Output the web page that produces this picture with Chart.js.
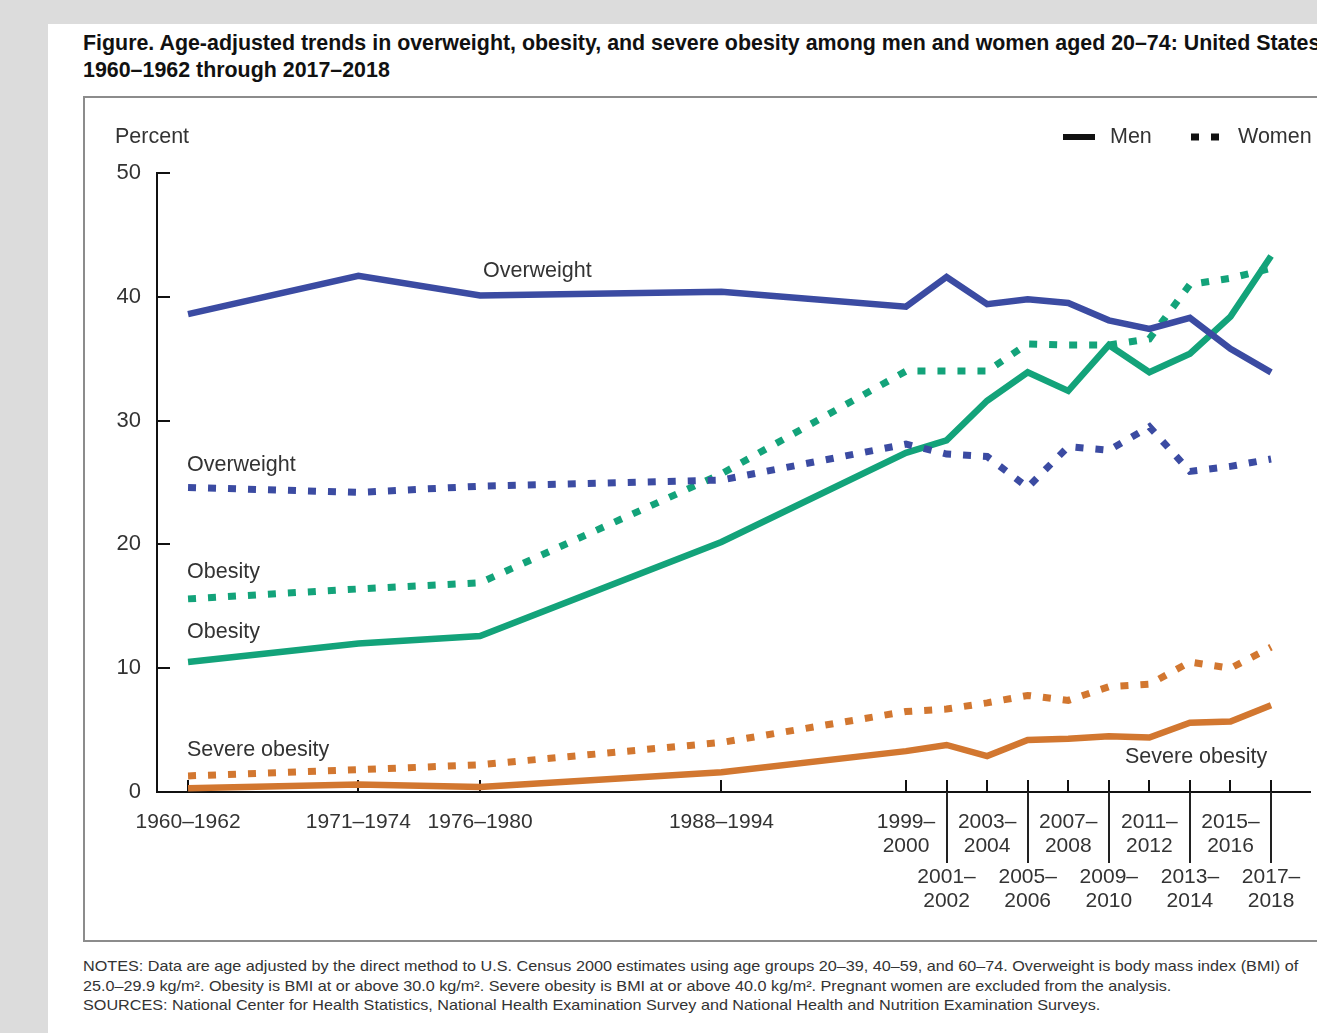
<!DOCTYPE html>
<html>
<head>
<meta charset="utf-8">
<script src="https://cdn.jsdelivr.net/npm/chart.js@4.4.0/dist/chart.umd.min.js"></script>
<style>
  html, body { margin: 0; padding: 0; overflow: hidden; }
  body { width: 1317px; height: 1033px; background: #dcdcdc; position: relative; font-family: "Liberation Sans", Arial, sans-serif; }
  #panel { position: absolute; left: 48px; top: 24px; width: 1300px; height: 1020px; background: #fff; }
  #title { position: absolute; left: 83px; top: 30px; font-weight: bold; font-size: 21.4px; line-height: 27px; color: #111; white-space: nowrap; }
  #box { position: absolute; left: 83px; top: 96px; width: 1260px; height: 842px; border: 2px solid #8c8c8c; }
  #chartWrap { position: absolute; left: 83px; top: 96px; width: 1234px; height: 846px; }
  #notes { position: absolute; left: 83px; top: 957px; font-size: 14.5px; line-height: 19.5px; color: #333; white-space: nowrap;
           transform: scaleX(1.116); transform-origin: left top; }
</style>
</head>
<body>
<div id="panel"></div>
<div id="title">Figure. Age-adjusted trends in overweight, obesity, and severe obesity among men and women aged 20–74: United States,<br>1960–1962 through 2017–2018</div>
<div id="box"></div>
<div id="chartWrap"><canvas id="obesityChart" width="1234" height="846"></canvas></div>
<div id="notes">NOTES: Data are age adjusted by the direct method to U.S. Census 2000 estimates using age groups 20–39, 40–59, and 60–74. Overweight is body mass index (BMI) of<br>25.0–29.9 kg/m². Obesity is BMI at or above 30.0 kg/m². Severe obesity is BMI at or above 40.0 kg/m². Pregnant women are excluded from the analysis.<br>SOURCES: National Center for Health Statistics, National Health Examination Survey and National Health and Nutrition Examination Surveys.</div>

<script>
/* ─── Data ─── */
const periods = ['1960–1962','1971–1974','1976–1980','1988–1994','1999–2000','2001–2002','2003–2004',
                 '2005–2006','2007–2008','2009–2010','2011–2012','2013–2014','2015–2016','2017–2018'];
// where each survey sits on the time axis (as drawn in the figure)
const surveyYear = [1964.1, 1972.5, 1978.5, 1990.4, 1999.5, 2001.5, 2003.5,
                    2005.5, 2007.5, 2009.5, 2011.5, 2013.5, 2015.5, 2017.5];

const menOverweight   = [38.6, 41.7, 40.1, 40.4, 39.2, 41.6, 39.4, 39.8, 39.5, 38.1, 37.4, 38.3, 35.8, 33.9];
const womenOverweight = [24.6, 24.2, 24.7, 25.2, 28.1, 27.3, 27.1, 24.6, 27.9, 27.6, 29.5, 25.9, 26.3, 26.9];
const menObesity      = [10.5, 12.0, 12.6, 20.2, 27.4, 28.4, 31.6, 33.9, 32.4, 36.1, 33.9, 35.4, 38.4, 43.3];
const womenObesity    = [15.6, 16.4, 16.9, 25.7, 34.0, 34.0, 34.0, 36.2, 36.1, 36.1, 36.6, 41.0, 41.5, 42.3];
const menSevere       = [0.3, 0.6, 0.4, 1.6, 3.3, 3.8, 2.9, 4.2, 4.3, 4.5, 4.4, 5.6, 5.7, 7.0];
const womenSevere     = [1.3, 1.8, 2.2, 4.0, 6.5, 6.7, 7.2, 7.8, 7.4, 8.5, 8.7, 10.5, 10.0, 11.7];

const yTicks = [0, 10, 20, 30, 40, 50];

const BLUE   = '#3B4BA2';
const GREEN  = '#13A37A';
const ORANGE = '#D27730';
const TEXT   = '#333333';
const FONT   = '"Liberation Sans", Arial, sans-serif';

function pts(values) {
  return values.map((v, i) => ({ x: surveyYear[i], y: v }));
}

function series(label, values, color, dotted) {
  return {
    label: label,
    data: pts(values),
    borderColor: color,
    borderWidth: dotted ? 7 : 6.5,
    borderDash: dotted ? [8, 12] : [],
    borderCapStyle: 'butt',
    pointRadius: 0,
    tension: 0,
    fill: false
  };
}

/* ─── Custom axis decorations, labels and legend ─── */
const decorations = {
  id: 'decorations',
  beforeDatasetsDraw(chart) {
    const ctx = chart.ctx;
    const xs = chart.scales.x, ys = chart.scales.y;
    const base = ys.getPixelForValue(0);
    ctx.save();
    ctx.strokeStyle = '#111';
    ctx.lineWidth = 2;
    // upward x ticks
    surveyYear.forEach(v => {
      const px = Math.round(xs.getPixelForValue(v));
      ctx.beginPath();
      ctx.moveTo(px, base);
      ctx.lineTo(px, base - 12);
      ctx.stroke();
    });
    // inward y ticks
    yTicks.forEach(v => {
      const py = Math.round(ys.getPixelForValue(v));
      ctx.beginPath();
      ctx.moveTo(xs.left, py);
      ctx.lineTo(xs.left + 13, py);
      ctx.stroke();
    });
    ctx.restore();
  },
  afterDraw(chart) {
    const ctx = chart.ctx;
    const xs = chart.scales.x, ys = chart.scales.y;
    const base = ys.getPixelForValue(0);
    ctx.save();
    ctx.fillStyle = TEXT;
    ctx.font = '21px ' + FONT;
    ctx.textBaseline = 'middle';
    ctx.textAlign = 'center';

    // x labels
    periods.forEach((p, i) => {
      const px = xs.getPixelForValue(surveyYear[i]);
      const parts = p.split('–');
      if (i < 4) {
        ctx.fillText(p, px, base + 30);
      } else if (i % 2 === 0) {
        ctx.fillText(parts[0] + '–', px, base + 30);
        ctx.fillText(parts[1], px, base + 54);
      } else {
        ctx.fillText(parts[0] + '–', px, base + 85);
        ctx.fillText(parts[1], px, base + 109);
        // separator line
        ctx.strokeStyle = '#222';
        ctx.lineWidth = 2;
        ctx.beginPath();
        ctx.moveTo(Math.round(px), base);
        ctx.lineTo(Math.round(px), base + 71);
        ctx.stroke();
      }
    });

    // axis title
    ctx.textAlign = 'left';
    ctx.font = '21.5px ' + FONT;
    ctx.fillText('Percent', 32, 41);

    // series annotations
    ctx.fillText('Overweight', 400, 175);
    ctx.fillText('Overweight', 104, 369);
    ctx.fillText('Obesity', 104, 476);
    ctx.fillText('Obesity', 104, 536);
    ctx.fillText('Severe obesity', 104, 654);
    ctx.fillText('Severe obesity', 1042, 661);

    // legend
    ctx.strokeStyle = '#111';
    ctx.lineWidth = 6;
    ctx.beginPath();
    ctx.moveTo(980, 41);
    ctx.lineTo(1012, 41);
    ctx.stroke();
    ctx.fillText('Men', 1027, 41);
    ctx.setLineDash([8, 12]);
    ctx.lineWidth = 7;
    ctx.beginPath();
    ctx.moveTo(1108, 41);
    ctx.lineTo(1140, 41);
    ctx.stroke();
    ctx.setLineDash([]);
    ctx.fillText('Women', 1155, 41);
    ctx.restore();
  }
};

/* ─── Chart ─── */
function initChart() {
  const ctx = document.getElementById('obesityChart').getContext('2d');
  new Chart(ctx, {
    type: 'line',
    data: {
      datasets: [
        series('Men overweight',   menOverweight,   BLUE,   false),
        series('Women overweight', womenOverweight, BLUE,   true),
        series('Men obesity',      menObesity,      GREEN,  false),
        series('Women obesity',    womenObesity,    GREEN,  true),
        series('Men severe obesity',   menSevere,   ORANGE, false),
        series('Women severe obesity', womenSevere, ORANGE, true)
      ]
    },
    options: {
      responsive: false,
      animation: false,
      layout: { padding: { top: 77, right: 7, left: 0, bottom: 0 } },
      plugins: {
        legend: { display: false },
        tooltip: { enabled: false }
      },
      scales: {
        x: {
          type: 'linear',
          min: 1962.57,
          max: 2019.42,
          grid: { display: false },
          border: { display: true, color: '#111', width: 2 },
          ticks: { display: false },
          afterFit: s => { s.height = 150; }
        },
        y: {
          min: 0,
          max: 50,
          afterBuildTicks: s => { s.ticks = yTicks.map(v => ({ value: v })); },
          grid: { display: false },
          border: { display: true, color: '#111', width: 2 },
          ticks: { color: TEXT, font: { size: 22, family: FONT }, padding: 8 },
          afterFit: s => { s.width = 74; }
        }
      }
    },
    plugins: [decorations]
  });
}

document.addEventListener('DOMContentLoaded', initChart);
</script>
</body>
</html>
